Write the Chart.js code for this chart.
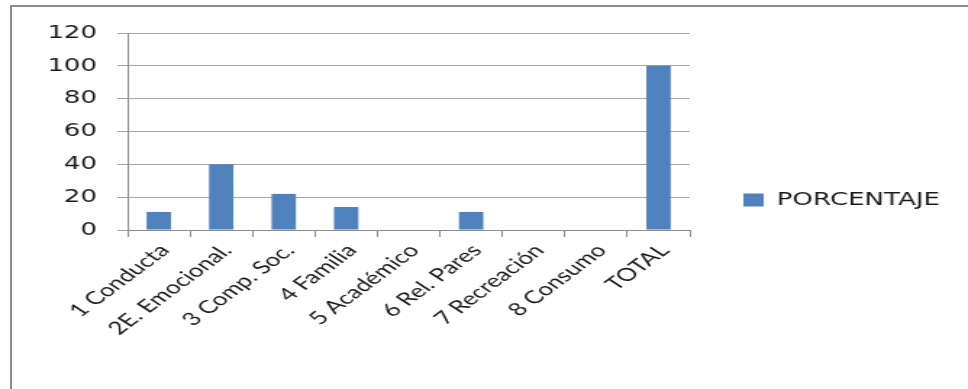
<!DOCTYPE html>
<html>
<head>
<meta charset="utf-8">
<script src="https://cdn.jsdelivr.net/npm/chart.js@4/dist/chart.umd.min.js"></script>
<style>
  html, body { margin: 0; padding: 0; background: #fff; }
  #wrap { position: relative; width: 968px; height: 389px; overflow: hidden; }
  /* the reference image is stretched sideways; draw narrow and widen it */
  #chart { display: block; width: 968px; height: 389px; }
  #frame {
    position: absolute; left: 10px; top: 5px; right: -4px; bottom: -4px;
    border-top: 2px solid #8c8c8c; border-left: 2px solid #8c8c8c;
    pointer-events: none;
  }
</style>
</head>
<body>
<div id="wrap">
  <canvas id="chart" width="668" height="389" style="width:968px;height:389px"></canvas>
  <div id="frame"></div>
</div>
<script>
'use strict';

// ── Data ────────────────────────────────────────────────────────────────────
const CATEGORIES = ['1 Conducta', '2E. Emocional.', '3 Comp. Soc.', '4 Familia', '5 Académico',
                    '6 Rel. Pares', '7 Recreación', '8 Consumo', 'TOTAL'];
const PORCENTAJE = [11, 40, 22, 14, 0, 11, 0, 0, 100];
const SERIES_LABEL = 'PORCENTAJE';
const Y_MIN = 0, Y_MAX = 120, Y_STEP = 20;

const BLUE = '#4f81bd';
const GRID = '#a6a6a6';
const AXIS = '#8c8c8c';

// legend gets a fixed width so the plot ends where the reference does
const legendWidth = {
  id: 'legendWidth',
  beforeInit(chart) {
    const fit = chart.legend.fit;
    chart.legend.fit = function () { fit.call(this); this.width = 192; };
  }
};

new Chart(document.getElementById('chart'), {
  type: 'bar',
  data: {
    labels: CATEGORIES,
    datasets: [{
      label: SERIES_LABEL,
      data: PORCENTAJE,
      backgroundColor: BLUE,
      borderWidth: 0,
      categoryPercentage: 1,
      barPercentage: 0.39,
    }],
  },
  options: {
    responsive: false,
    animation: false,
    layout: { padding: { left: 0, right: 0, top: 33, bottom: 22 } },
    plugins: {
      tooltip: { enabled: false },
      legend: {
        position: 'right',
        labels: {
          boxWidth: 14,
          boxHeight: 13,
          padding: 37,
          color: '#1a1a1a',
          font: { family: 'DejaVu Sans', size: 18 },
        },
      },
    },
    scales: {
      x: {
        grid: { display: true, drawOnChartArea: false, offset: true, color: AXIS, tickLength: 7 },
        border: { color: AXIS, width: 1 },
        ticks: {
          autoSkip: false,
          minRotation: 47,
          maxRotation: 47,
          padding: 3,
          labelOffset: 4,
          color: '#1a1a1a',
          font: { family: 'Lato', size: 18 },
        },
        afterFit: s => { s.height = 137; },
      },
      y: {
        min: Y_MIN,
        max: Y_MAX,
        grid: { color: GRID, tickLength: 7 },
        border: { color: AXIS, width: 1 },
        ticks: {
          stepSize: Y_STEP,
          padding: 14,
          color: '#1a1a1a',
          font: { family: 'DejaVu Sans', size: 18 },
        },
        afterFit: s => { s.width = 88; },
      },
    },
  },
  plugins: [legendWidth],
});
</script>
</body>
</html>
